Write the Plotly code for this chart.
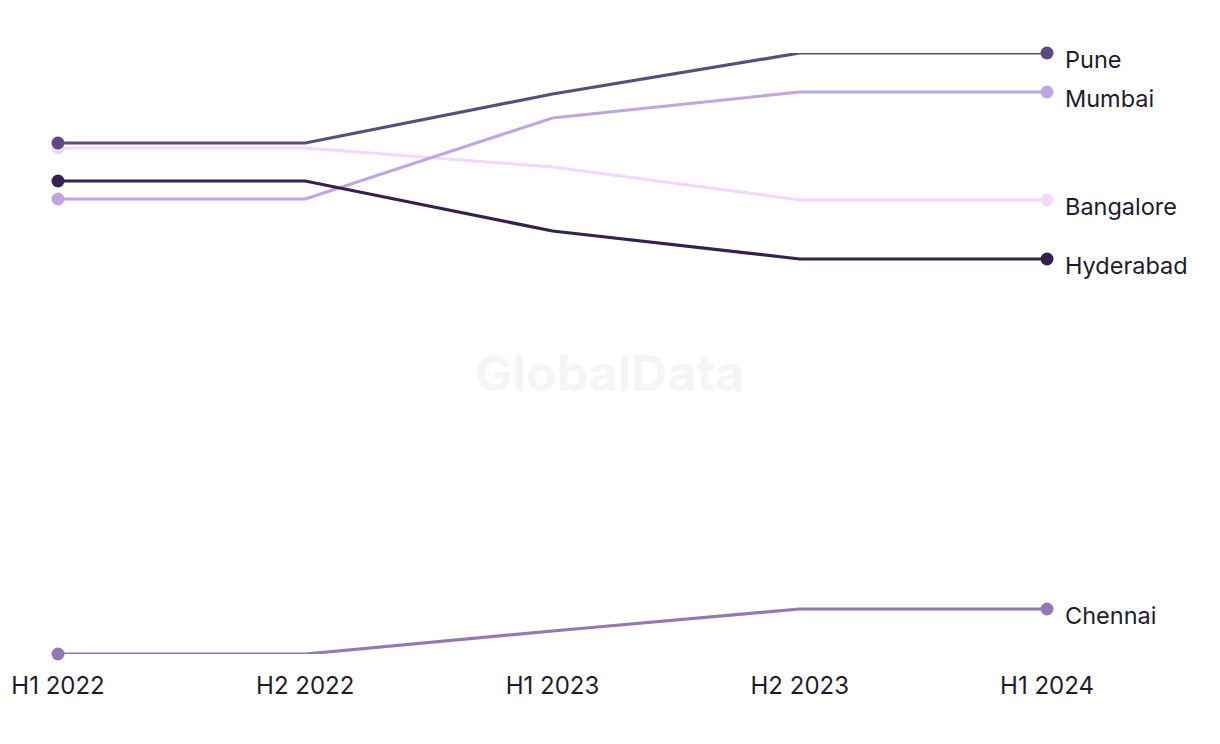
import plotly.graph_objects as go

periods = ["H1 2022", "H2 2022", "H1 2023", "H2 2023", "H1 2024"]
pune = [55.7, 55.7, 60.6, 64.7, 64.7]
mumbai = [50.1, 50.1, 58.2, 60.8, 60.8]
bangalore = [55.2, 55.2, 53.3, 50.0, 50.0]
hyderabad = [51.9, 51.9, 46.9, 44.1, 44.1]
chennai = [4.6, 4.6, 6.9, 9.1, 9.1]

series = [
    ("Bangalore", bangalore, "#f0d9fb"),
    ("Mumbai", mumbai, "#c0a5e3"),
    ("Chennai", chennai, "#9278b5"),
    ("Hyderabad", hyderabad, "#35204f"),
    ("Pune", pune, "#5e4a82"),
]

FONT = "Inter, Roboto, sans-serif"
x = list(range(len(periods)))
fig = go.Figure()
for name, vals, color in series:
    fig.add_trace(go.Scatter(
        x=x, y=vals, mode="lines", name=name,
        line=dict(color=color, width=3.2),
        cliponaxis=False, showlegend=False, hoverinfo="skip",
    ))
    fig.add_trace(go.Scatter(
        x=[x[0], x[-1]], y=[vals[0], vals[-1]], mode="markers", name=name,
        marker=dict(color=color, size=13, opacity=1, line=dict(width=0)),
        cliponaxis=False, showlegend=False, hoverinfo="skip",
    ))
    fig.add_annotation(
        x=x[-1], y=vals[-1], text=name, showarrow=False,
        xanchor="left", yanchor="middle", xshift=16, yshift=-6,
        font=dict(family=FONT, size=23.5, color="#1e1b2e"),
    )

fig.add_annotation(
    x=0.558, y=0.467, xref="paper", yref="paper", text="<b>GlobalData</b>",
    showarrow=False, font=dict(family=FONT, size=50, color="#f5f5f5"),
)

fig.update_layout(
    width=1204, height=728,
    margin=dict(l=50, r=165, t=45, b=82),
    paper_bgcolor="white", plot_bgcolor="white",
    xaxis=dict(
        range=[0, 4], tickmode="array", tickvals=x, ticktext=periods,
        showgrid=False, zeroline=False, showline=False, ticks="",
        tickfont=dict(family=FONT, size=24, color="#1e1b2e"),
        ticklabelstandoff=15, automargin=False,
        ticklabeloverflow="allow",
    ),
    yaxis=dict(range=[4.6, 64.7], visible=False, showgrid=False, zeroline=False,
               automargin=False),
)

fig.write_html("out.html")
